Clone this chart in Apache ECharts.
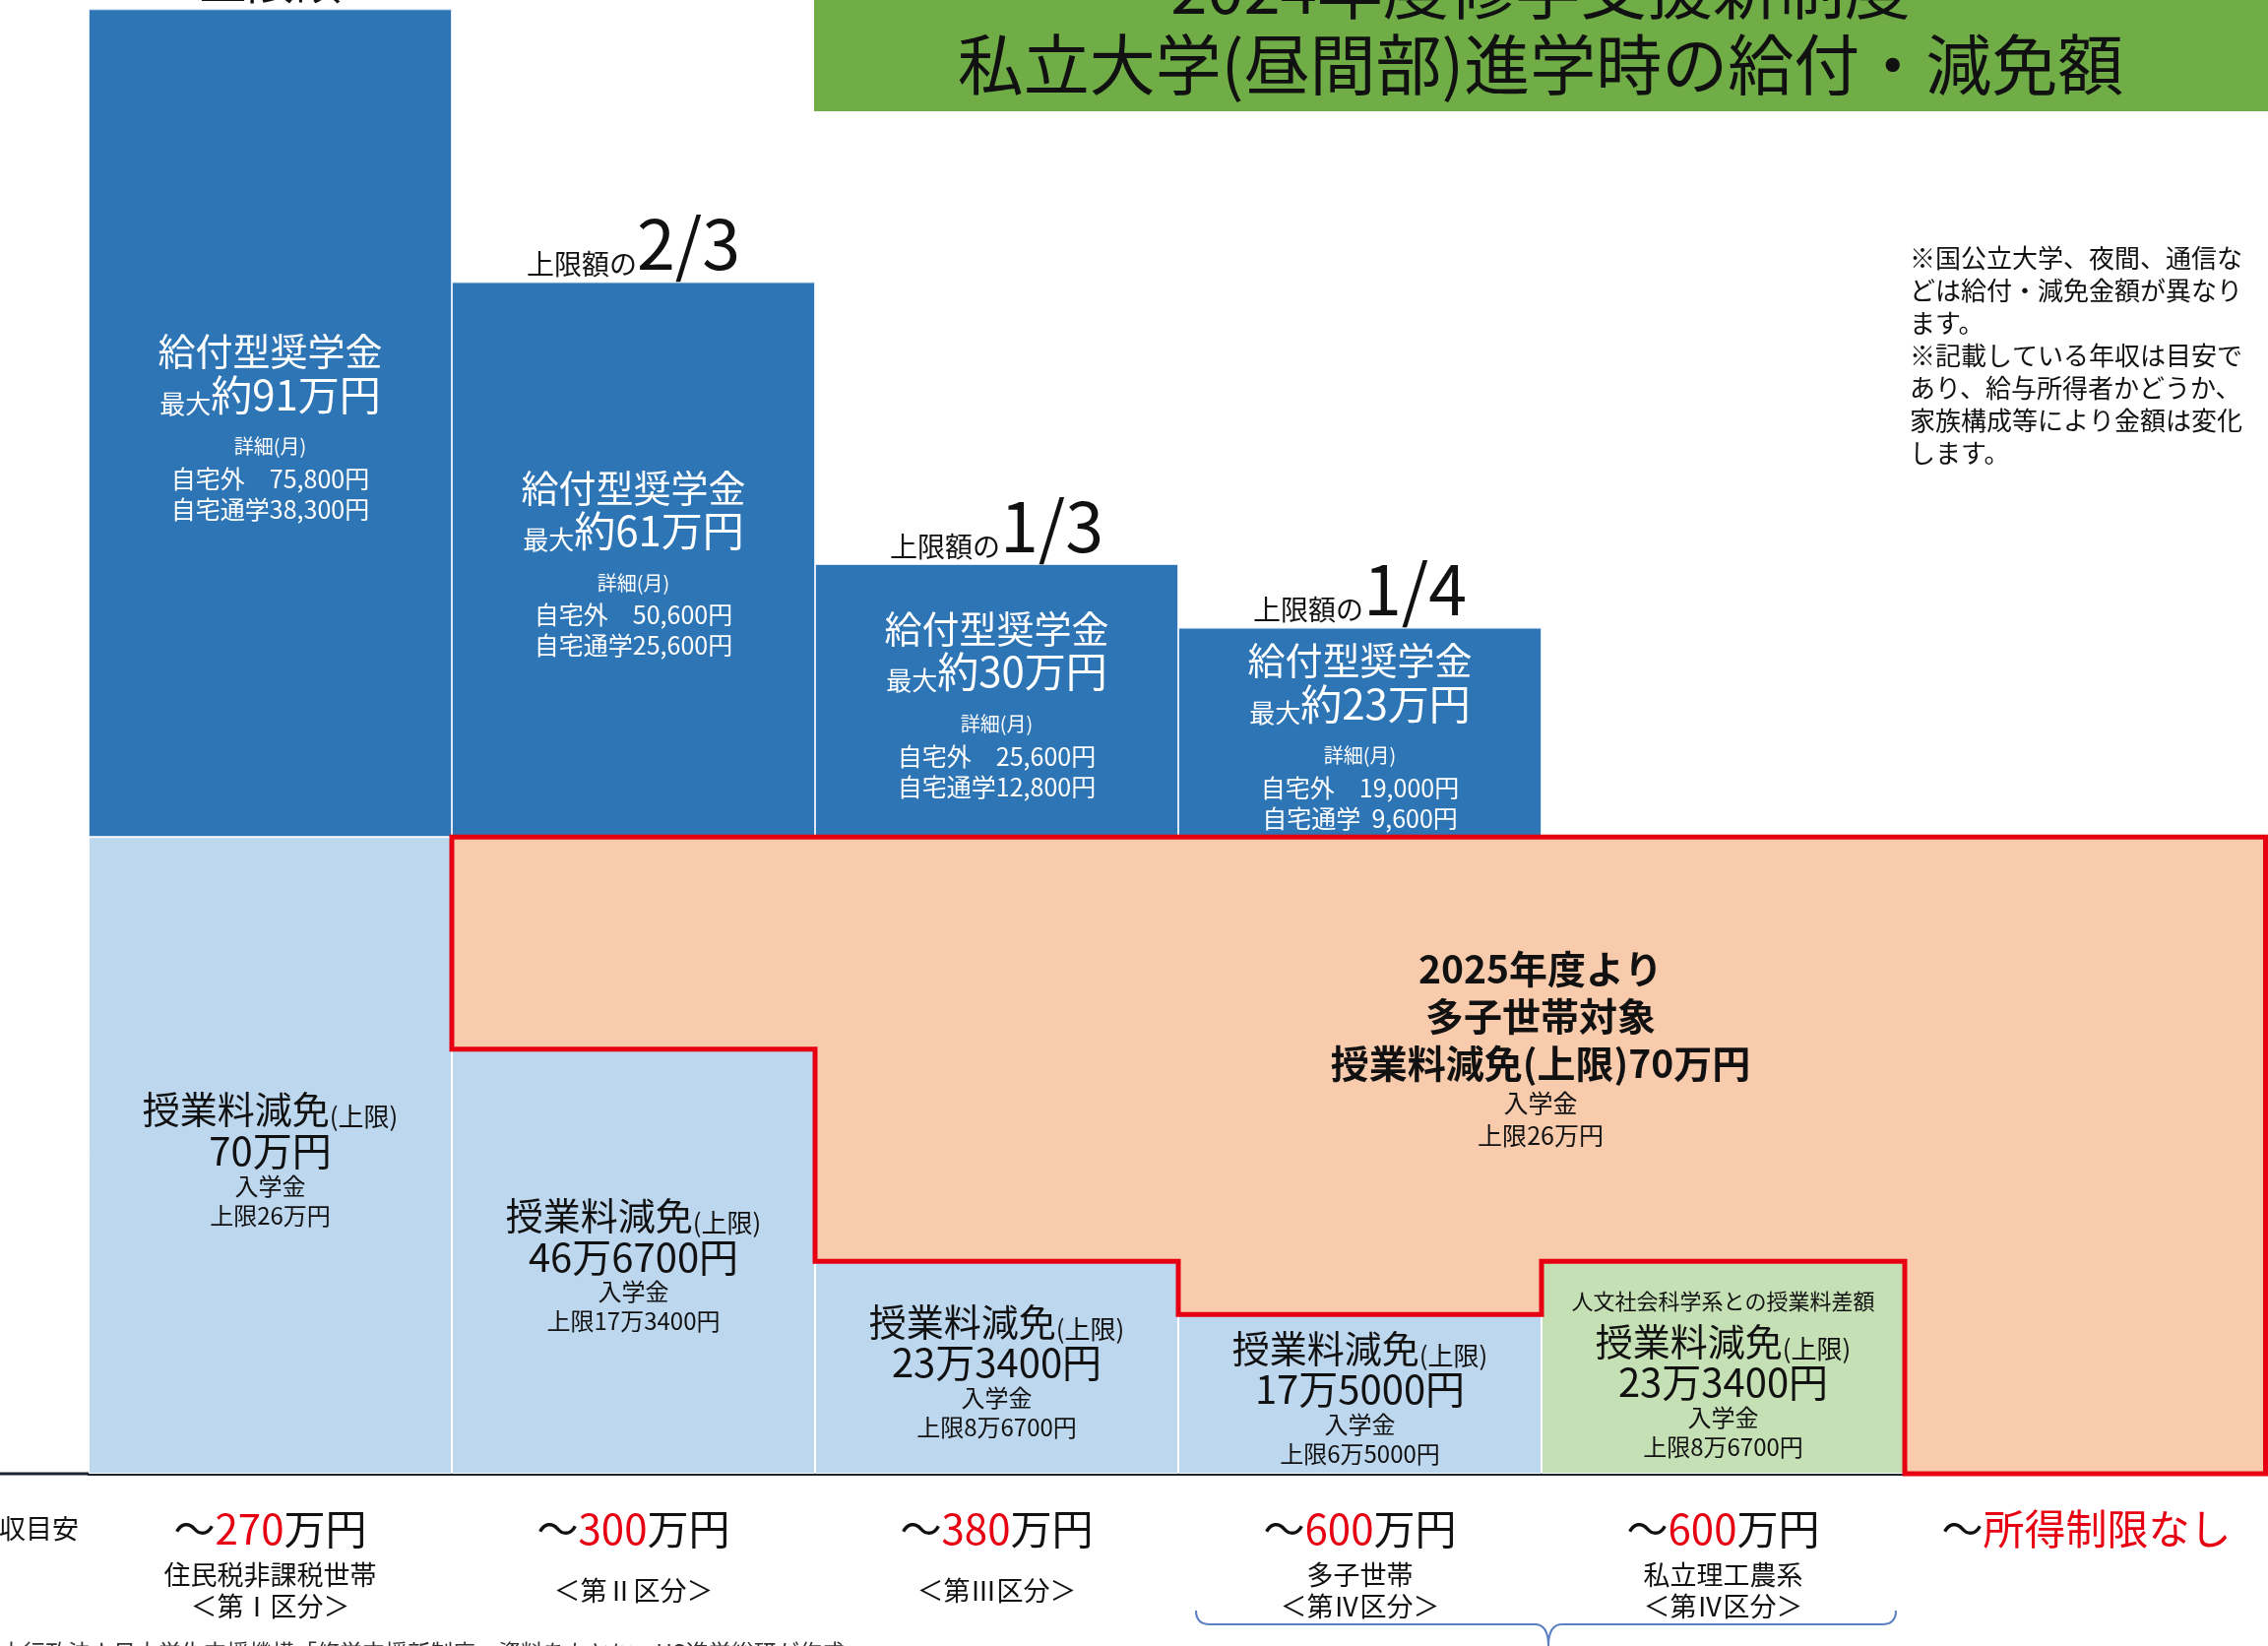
<!DOCTYPE html>
<html lang="ja">
<head>
<meta charset="utf-8">
<title>2024年度修学支援新制度 私立大学(昼間部)進学時の給付・減免額</title>
<script src="https://cdn.jsdelivr.net/npm/echarts@6/dist/echarts.min.js"></script>
<style>
  html, body { margin: 0; padding: 0; background: #fff; }
  #chart { width: 2304px; height: 1672px; }
</style>
</head>
<body>
<div id="chart"></div>
<script>
// 区分ごとの金額（万円）
const categories = ['第Ⅰ区分', '第Ⅱ区分', '第Ⅲ区分', '第Ⅳ区分（多子世帯）', '第Ⅳ区分（私立理工農系）', '多子世帯（所得制限なし）'];
const tuition = [70, 46.67, 23.34, 17.5, 23.34, 0];        // 授業料減免（上限）
const multiChild = [0, 23.33, 46.66, 52.5, 46.66, 70];     // 2025年度より多子世帯の上乗せ分
const scholarship = [91, 61, 30, 23, 0, 0];                // 給付型奨学金（最大）

// ラベル用テキスト
const capShare = ['', '2/3', '1/3', '1/4'];
const scholarshipMax = ['91', '61', '30', '23'];
const monthlyAway = ['75,800', '50,600', '25,600', '19,000'];
const monthlyHome = ['38,300', '25,600', '12,800', '9,600'];
const tuitionText = ['70万円', '46万6700円', '23万3400円', '17万5000円', '23万3400円', ''];
const entranceCap = ['26万円', '17万3400円', '8万6700円', '6万5000円', '8万6700円', ''];
const incomeLimit = ['270', '300', '380', '600', '600', '所得制限なし'];
const incomeNotes = [
    ['住民税非課税世帯', '＜第Ⅰ区分＞'],
    ['＜第Ⅱ区分＞'],
    ['＜第Ⅲ区分＞'],
    ['多子世帯', '＜第Ⅳ区分＞'],
    ['私立理工農系', '＜第Ⅳ区分＞'],
    []
];

const FONT = '"Noto Sans CJK JP", "Noto Sans", sans-serif';
const RED = '#E60012';
const ORANGE = '#F8CBAD';
const BRACE = { fill: 'none', stroke: '#5B7FC0', lineWidth: 2 };

var chart = echarts.init(document.getElementById('chart'));

chart.setOption({
    animation: false,
    textStyle: { fontFamily: FONT },
    // 幅 2214 = 6列 x 369px で列の境目を整数にそろえる
    grid: { left: 90, right: 0, top: 0, bottom: 175 },

    xAxis: {
        type: 'category',
        data: categories,
        axisTick: { show: false },
        axisLine: { lineStyle: { color: '#1b2533', width: 3 } },
        axisLabel: {
            interval: 0,
            margin: 25,
            formatter: function (value, index) {
                const head = index === 5
                    ? `{a|～}{r|${incomeLimit[index]}}`
                    : `{a|～}{r|${incomeLimit[index]}}{a|万円}`;
                const notes = incomeNotes[index];
                const st = notes.length === 1 ? 'n1' : 'n';
                return [head].concat(notes.map(n => `{${st}|${n}}`)).join('\n');
            },
            rich: {
                a: { fontFamily: FONT, fontSize: 42, color: '#111', lineHeight: 62 },
                r: { fontFamily: FONT, fontSize: 42, color: RED, lineHeight: 62 },
                n: { fontFamily: FONT, fontSize: 27, color: '#111', lineHeight: 32 },
                n1: { fontFamily: FONT, fontSize: 27, color: '#111', lineHeight: 64 }
            }
        }
    },
    yAxis: { type: 'value', min: 0, max: 162, show: false },

    series: [
        {
            name: '授業料減免',
            type: 'bar',
            stack: 'total',
            barCategoryGap: 0,
            data: tuition,
            itemStyle: {
                color: p => p.dataIndex === 4 ? '#C5E0B4' : '#BDD7EE',
                borderColor: '#fff',
                borderWidth: 1
            },
            label: {
                show: true,
                position: 'inside',
                offset: [0, 4],
                formatter: function (p) {
                    const i = p.dataIndex;
                    if (!tuition[i]) return '';
                    const lines = [];
                    if (i === 4) lines.push('{g|人文社会科学系との授業料差額}');
                    lines.push('{h|授業料減免}{p|(上限)}');
                    lines.push(`{v|${tuitionText[i]}}`);
                    lines.push('{e|入学金}');
                    lines.push(`{e|上限${entranceCap[i]}}`);
                    return lines.join('\n');
                },
                rich: {
                    g: { fontFamily: FONT, fontSize: 22, color: '#111', lineHeight: 40 },
                    h: { fontFamily: FONT, fontSize: 38, color: '#111', lineHeight: 42 },
                    p: { fontFamily: FONT, fontSize: 26, color: '#111', verticalAlign: 'bottom' },
                    v: { fontFamily: FONT, fontSize: 40, color: '#111', lineHeight: 42 },
                    e: { fontFamily: FONT, fontSize: 24, color: '#111', lineHeight: 30 }
                }
            }
        },
        {
            name: '多子世帯',
            type: 'bar',
            stack: 'total',
            barCategoryGap: 0,
            data: multiChild,
            itemStyle: { color: ORANGE, borderWidth: 0 }
        },
        {
            name: '給付型奨学金',
            type: 'bar',
            stack: 'total',
            barCategoryGap: 0,
            data: scholarship,
            itemStyle: { color: '#2E75B6', borderColor: '#dfe9f5', borderWidth: 1 },
            label: {
                show: true,
                position: 'inside',
                offset: [0, 4],
                formatter: function (p) {
                    const i = p.dataIndex;
                    if (!scholarship[i]) return '';
                    const home = monthlyHome[i].length < 6 ? '  ' + monthlyHome[i] : monthlyHome[i];
                    return [
                        '{t|給付型奨学金}',
                        `{s|最大}{l|約${scholarshipMax[i]}万円}`,
                        '{sp| }',
                        '{d|詳細(月)}',
                        `{m|自宅外　${monthlyAway[i]}円}`,
                        `{m|自宅通学${home}円}`
                    ].join('\n');
                },
                rich: {
                    t: { fontFamily: FONT, fontSize: 38, color: '#fff', lineHeight: 44 },
                    s: { fontFamily: FONT, fontSize: 26, color: '#fff', verticalAlign: 'bottom' },
                    l: { fontFamily: FONT, fontSize: 42, color: '#fff', lineHeight: 44 },
                    sp: { fontSize: 8, lineHeight: 14 },
                    d: { fontFamily: FONT, fontSize: 20, color: '#fff', lineHeight: 34 },
                    m: { fontFamily: FONT, fontSize: 25, color: '#fff', lineHeight: 31 }
                }
            }
        },
        {
            // 「上限額の2/3」などの見出し
            name: '上限額',
            type: 'custom',
            clip: false,
            silent: true,
            z: 6,
            data: scholarship
                .map((v, i) => [i, tuition[i] + multiChild[i] + v])
                .filter(d => scholarship[d[0]] > 0),
            renderItem: function (params, api) {
                const i = api.value(0);
                const pt = api.coord([i, api.value(1)]);
                const share = capShare[i];
                const text = share ? `{a|上限額の}{b|${share}}` : '{c|上限額}';
                return {
                    type: 'text',
                    x: pt[0],
                    y: pt[1] - 4,
                    style: {
                        text: text,
                        align: 'center',
                        verticalAlign: 'bottom',
                        fill: '#111',
                        rich: {
                            a: { fontFamily: FONT, fontSize: 28, fill: '#111', verticalAlign: 'bottom' },
                            b: { fontFamily: FONT, fontSize: 70, fill: '#111', verticalAlign: 'bottom' },
                            c: { fontFamily: FONT, fontSize: 48, fill: '#111', verticalAlign: 'bottom' }
                        }
                    }
                };
            }
        },
        {
            // 多子世帯対象の範囲を囲む赤枠
            name: '多子世帯枠',
            type: 'custom',
            clip: false,
            silent: true,
            z: 10,
            data: [[0, 0]],
            renderItem: function (params, api) {
                const half = api.size([1, 0])[0] / 2;
                const inset = 2.5;
                const first = 1, last = tuition.length - 1;
                const top = api.coord([first, tuition[first] + multiChild[first]])[1];
                const pts = [
                    [api.coord([first, 0])[0] - half, top],
                    [api.coord([last, 0])[0] + half - inset, top]
                ];
                for (let i = last; i >= first; i--) {
                    const c = api.coord([i, tuition[i]]);
                    pts.push([c[0] + half - (i === last ? inset : 0), c[1]]);
                    pts.push([c[0] - half, c[1]]);
                }
                return {
                    type: 'polygon',
                    shape: { points: pts },
                    style: { fill: 'none', stroke: RED, lineWidth: 5, lineJoin: 'miter' }
                };
            }
        }
    ],

    graphic: [
        { type: 'rect', shape: { x: 827, y: 0, width: 1477, height: 113 }, style: { fill: '#70AD47' }, z: 1 },
        {
            type: 'text', x: 1565, y: 27, z: 2,
            style: {
                text: '2024年度修学支援新制度\n私立大学(昼間部)進学時の給付・減免額',
                align: 'center', verticalAlign: 'middle',
                font: '67px ' + FONT, lineHeight: 77, fill: '#111'
            }
        },
        {
            type: 'text', x: 1940, y: 246,
            style: {
                text: '※国公立大学、夜間、通信な\nどは給付・減免金額が異なり\nます。\n※記載している年収は目安で\nあり、給与所得者かどうか、\n家族構成等により金額は変化\nします。',
                align: 'left', verticalAlign: 'top',
                font: '26px ' + FONT, lineHeight: 33, fill: '#111'
            }
        },
        {
            type: 'text', x: 1565, y: 960, z: 20,
            style: {
                text: '{b|2025年度より}\n{b|多子世帯対象}\n{b|授業料減免(上限)70万円}\n{s|入学金}\n{s|上限26万円}',
                align: 'center', verticalAlign: 'top',
                rich: {
                    b: { fontFamily: FONT, fontSize: 39, fontWeight: 'bold', fill: '#111', lineHeight: 48 },
                    s: { fontFamily: FONT, fontSize: 25, fill: '#111', lineHeight: 33 }
                }
            }
        },
        { type: 'line', shape: { x1: 0, y1: 1497, x2: 90, y2: 1497 }, style: { stroke: '#1b2533', lineWidth: 3 } },
        {
            type: 'text', x: 80, y: 1553,
            style: { text: '年収目安', align: 'right', verticalAlign: 'middle', font: '27px ' + FONT, fill: '#111' }
        },
        // 第Ⅳ区分の2列をまとめる括弧
        { type: 'bezierCurve', shape: { x1: 1215, y1: 1636, x2: 1229, y2: 1650, cpx1: 1215, cpy1: 1650 }, style: BRACE },
        { type: 'line', shape: { x1: 1229, y1: 1650, x2: 1559, y2: 1650 }, style: BRACE },
        { type: 'bezierCurve', shape: { x1: 1559, y1: 1650, x2: 1573, y2: 1672, cpx1: 1573, cpy1: 1650 }, style: BRACE },
        { type: 'bezierCurve', shape: { x1: 1573, y1: 1672, x2: 1587, y2: 1650, cpx1: 1573, cpy1: 1650 }, style: BRACE },
        { type: 'line', shape: { x1: 1587, y1: 1650, x2: 1912, y2: 1650 }, style: BRACE },
        { type: 'bezierCurve', shape: { x1: 1912, y1: 1650, x2: 1926, y2: 1636, cpx1: 1926, cpy1: 1650 }, style: BRACE },
        {
            type: 'text', x: -23, y: 1678,
            style: {
                text: '独立行政法人日本学生支援機構「修学支援新制度」資料をもとに、HS進学総研が作成',
                align: 'left', verticalAlign: 'middle', font: '23px ' + FONT, fill: '#333'
            }
        }
    ]
});

window.addEventListener('resize', () => {
    if (chart) chart.resize();
});
</script>
</body>
</html>
